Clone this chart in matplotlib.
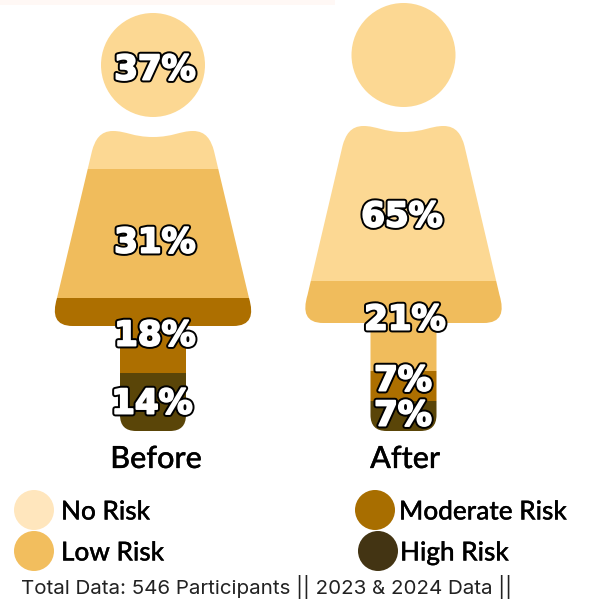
import matplotlib
matplotlib.use("Agg")
import matplotlib.pyplot as plt
import matplotlib.patheffects as pe
from matplotlib.path import Path
from matplotlib.patches import PathPatch, Circle, Rectangle

# chart data
groups = ['Before', 'After']
categories = ['No Risk', 'Low Risk', 'Moderate Risk', 'High Risk']
before_values = [37, 31, 18, 14]
after_values = [65, 21, 7, 7]
footer = 'Total Data: 546 Participants || 2023 & 2024 Data ||'

band_colors = ['#FCD893', '#F0BC5C', '#AD6F00', '#5A4508']
legend_colors = ['#FFE6BD', '#F2BE5E', '#A86E00', '#433413']


def person_path(cx, head_cy, top, skirt, leg):
    # head plus body, right half written out and mirrored around cx
    head = Path.circle((cx, head_cy), 52)
    half = [
        ((0, top + 6), Path.MOVETO),
        ((20, top + 6), Path.CURVE4), ((27, top), Path.CURVE4), ((40, top), Path.CURVE4),
        ((53, top), Path.CURVE4), ((58, top + 9), Path.CURVE4), ((61, top + 20), Path.CURVE4),
        ((96, skirt - 28), Path.LINETO),
        ((101, skirt - 11), Path.CURVE4), ((98, skirt), Path.CURVE4), ((80, skirt), Path.CURVE4),
        ((33, skirt), Path.LINETO),
        ((33, leg - 16), Path.LINETO),
        ((33, leg), Path.CURVE3), ((17, leg), Path.CURVE3),
        ((0, leg), Path.LINETO),
    ]
    pts = [(cx + x, y) for (x, y), c in half]
    codes = [c for xy, c in half]
    # left side is the same outline walked backwards
    for i in range(len(half) - 1, 0, -1):
        x, y = half[i - 1][0]
        pts.append((cx - x, y))
        codes.append(half[i][1])
    pts.append(pts[0])
    codes.append(Path.CLOSEPOLY)
    return Path.make_compound_path(head, Path(pts, codes))


fig, ax = plt.subplots(figsize=(5.9, 5.99), dpi=100)
ax.set_position([0, 0, 1, 1])
ax.set_xlim(0, 590)
ax.set_ylim(599, 0)
ax.axis('off')

ax.add_patch(Rectangle((0, 0), 335, 5, fc='#FFF8F5', ec='none'))

people = [
    dict(cx=153, head_cy=65, body_top=131, skirt_bottom=326, leg_bottom=431, top=15, values=before_values,
         label_xy=[(155, 70), (155, 243), (155, 336), (152, 404)], name_x=156),
    dict(cx=403.5, head_cy=55, body_top=126, skirt_bottom=323, leg_bottom=431, top=3, values=after_values,
         label_xy=[(402, 217), (405, 320), (403, 381), (403, 416)], name_x=405),
]

# black rim, then a white stroke to fatten the digits
outline = [pe.withStroke(linewidth=4.2, foreground='black'),
           pe.withStroke(linewidth=1.4, foreground='white')]
heavy = [pe.withStroke(linewidth=0.2, foreground='black')]
for p, name in zip(people, groups):
    shape = PathPatch(person_path(p['cx'], p['head_cy'], p['body_top'], p['skirt_bottom'], p['leg_bottom']),
                      transform=ax.transData, fc='none', ec='none')
    ax.add_patch(shape)
    total_h = p['leg_bottom'] - p['top']
    pos = p['top']
    for i, v in enumerate(p['values']):
        h = v / 100 * total_h
        start = pos - 14 if i == 0 else pos
        end = pos + h
        bars = ax.bar(p['cx'], end - start, width=230, bottom=start, color=band_colors[i], linewidth=0)
        bars[0].set_clip_path(shape)
        pos = end
    for (tx, ty), v in zip(p['label_xy'], p['values']):
        ax.text(tx, ty, f'{v}%', ha='center', va='center', color='white', fontsize=24.5,
                fontweight='bold', family='DejaVu Sans', path_effects=outline, zorder=5)
    ax.text(p['name_x'], 459, name, ha='center', va='center', fontsize=22, family='Lato',
            fontweight='medium', color='black', path_effects=heavy)

# legend
legend_xy = [(34, 510), (34, 551), (375, 510), (378, 551)]
text_x = [61, 61, 399, 400]
for (lx, ly), c, tx, label in zip(legend_xy, legend_colors, text_x, categories):
    ax.add_patch(Circle((lx, ly), 20, fc=c, ec='none'))
    ax.text(tx, ly + 2, label, ha='left', va='center', fontsize=18.8, family='Lato',
            fontweight='medium', color='black', path_effects=heavy)

ax.text(21, 587, footer, ha='left', va='center', fontsize=14.8, family='Inter', color='#222222')

fig.savefig('out.png', dpi=100)
